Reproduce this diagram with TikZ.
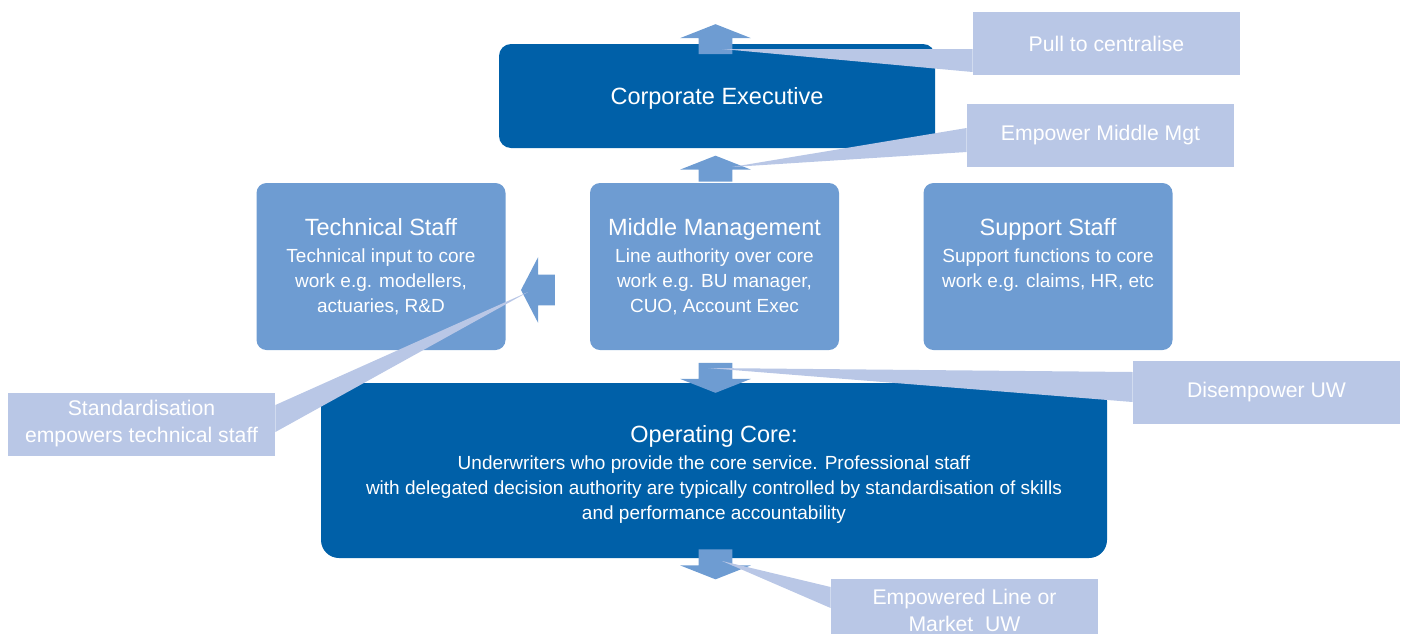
\documentclass[tikz,border=0pt]{standalone}
\usepackage{fontspec}
\setmainfont{Liberation Sans}
\usetikzlibrary{shapes.arrows}
\definecolor{corpblue}{HTML}{0060A8}
\definecolor{staffblue}{HTML}{6E9CD2}
\definecolor{noteblue}{HTML}{B9C7E6}

\begin{document}
\begin{tikzpicture}[x=0.5pt,y=-0.5pt,
    block/.style={fill=corpblue,inner sep=0pt},
    staff/.style={fill=staffblue,rounded corners=5pt,minimum width=124.5pt,minimum height=83.5pt,inner sep=0pt},
    cardtitle/.style={text=white,font=\fontsize{11.75}{14}\selectfont,align=center,inner sep=0pt},
    cardtext/.style={text=white,font=\fontsize{9.5}{12.5}\selectfont,align=center,inner sep=0pt},
    note/.style={fill=noteblue,text=white,font=\fontsize{10.6}{13.5}\selectfont,align=center,minimum width=133.5pt,minimum height=31.5pt,inner sep=0pt},
    blockarrow/.style={single arrow,fill=staffblue,inner sep=0pt,single arrow head extend=9.25pt,single arrow tip angle=137,minimum height=#1},
    vertarrow/.style={blockarrow=#1,inner xsep=8.25pt}]
  \useasboundingbox (0,0) rectangle (1402,633);
  \clip (0,0) rectangle (1402,633);

  % boxes
  \node[block,rounded corners=6pt,minimum width=218pt,minimum height=52pt] (corp) at (717,96) {};
  \node[cardtitle,anchor=base] (corptitle) at ([shift={(0,8.5)}]corp.center) {Corporate Executive};

  \foreach[count=\i] \x/\ttl/\txt in {381/Technical Staff/{Technical input to core\\work e.g. modellers,\\actuaries, R\&D},
                                      714.5/Middle Management/{Line authority over core\\work e.g. BU manager,\\CUO, Account Exec},
                                      1048/Support Staff/{Support functions to core\\work e.g. claims, HR, etc}} {
    \node[staff] (staff\i) at (\x,266.5) {};
    \node[cardtitle,anchor=base] (ttl\i) at ([shift={(0,53)}]staff\i.north) {\ttl};
    \node[cardtext,anchor=north] (txt\i) at ([shift={(0,13)}]ttl\i.base) {\txt};
  }

  \node[block,rounded corners=9pt,minimum width=393pt,minimum height=87.5pt] (core) at (714,470.5) {};
  \node[cardtitle,anchor=base] (coretitle) at ([shift={(0,59.5)}]core.north) {Operating Core:};
  \node[cardtext,anchor=north] (coretext) at ([shift={(0,13)}]coretitle.base) {Underwriters who provide the core service. Professional staff\\with delegated decision authority are typically controlled by standardisation of skills\\and performance accountability};

  % arrows
  \node[vertarrow=15pt,shape border rotate=90] (up1) at (715.5,42.5) {};
  \node[vertarrow=13pt,shape border rotate=90] (up2) at (715.5,172) {};
  \node[vertarrow=15pt,shape border rotate=270] (down1) at (715.5,374.5) {};
  \node[vertarrow=15pt,shape border rotate=270] (down2) at (715.5,561) {};
  \node[blockarrow=17pt,inner ysep=7.5pt,single arrow head extend=8.75pt,single arrow tip angle=125,shape border rotate=180] (left1) at (542,290) {};

  % callouts
  \node[note] (pull) at (1106.5,43.5) {Pull to centralise};
  \node[note] (empower) at (1100.5,135.5) {Empower Middle Mgt};
  \node[note] (disemp) at (1266.5,392.5) {Disempower UW};
  \node[note] (standard) at (141.5,424) {Standardisation\\empowers technical staff};
  \node[note] (lineuw) at (964.5,610.5) {Empowered Line or\\Market\ \ UW};

  \fill[noteblue] ([shift={(6.5,6.5)}]up1.center) -- ([shift={(0,5.5)}]pull.west) -- ([shift={(0,28.5)}]pull.west) -- cycle;
  \fill[noteblue] ([shift={(16.5,-5)}]up2.center) -- ([shift={(0,-7.5)}]empower.west) -- ([shift={(0,16.5)}]empower.west) -- cycle;
  \fill[noteblue] ([shift={(-7.5,-6.5)}]down1.center) -- ([shift={(0,-20.5)}]disemp.west) -- ([shift={(0,9.5)}]disemp.west) -- cycle;
  \fill[noteblue] ([shift={(-14,2)}]left1.center) -- ([shift={(0,-19)}]standard.east) -- ([shift={(0,8)}]standard.east) -- cycle;
  \fill[noteblue] ([shift={(6.5,0)}]down2.center) -- ([shift={(0,-23.5)}]lineuw.west) -- ([shift={(0,-2.5)}]lineuw.west) -- cycle;
\end{tikzpicture}
\end{document}
